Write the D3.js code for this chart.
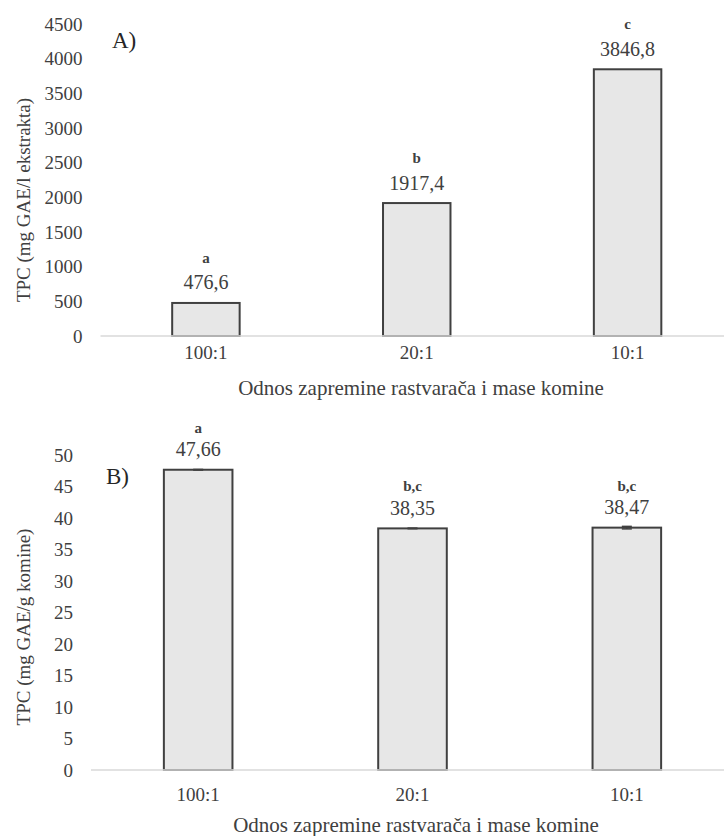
<!DOCTYPE html>
<html>
<head>
<meta charset="utf-8">
<script src="https://cdn.jsdelivr.net/npm/d3@7"></script>
<style>
  body { margin: 0; background: #fff; }
  svg { display: block; }
  text { font-family: "Liberation Serif", "Times New Roman", serif; fill: #404040; }
</style>
</head>
<body>
<svg id="chart" width="724" height="836"></svg>
<script>
// ratio of solvent volume to pomace mass
var ratios = ["100:1", "20:1", "10:1"];

// panel A: TPC per litre of extract
var tpcExtract = [476.6, 1917.4, 3846.8];
var tpcExtractErr = [0, 0, 0];
var lettersA = ["a", "b", "c"];
var ticksA = [0, 500, 1000, 1500, 2000, 2500, 3000, 3500, 4000, 4500];

// panel B: TPC per gram of pomace
var tpcPomace = [47.66, 38.35, 38.47];
var tpcPomaceErr = [0.05, 0.05, 0.2];
var lettersB = ["a", "b,c", "b,c"];
var ticksB = [0, 5, 10, 15, 20, 25, 30, 35, 40, 45, 50];

var xTitle = "Odnos zapremine rastvarača i mase komine";

var svg = d3.select("#chart");

function comma(v, digits) {
    return v.toFixed(digits).replace(".", ",");
}

function drawPanel(cfg) {
    var g = svg.append("g");

    var x = d3.scaleBand()
        .domain(ratios)
        .range([cfg.left, cfg.right])
        .paddingInner(0.68)
        .paddingOuter(0.34);

    var y = d3.scaleLinear()
        .domain([0, cfg.max])
        .range([cfg.bottom, cfg.top]);

    // y axis labels only, no line
    var yAxis = g.append("g")
        .attr("transform", "translate(" + cfg.left + ",0)")
        .call(d3.axisLeft(y).tickValues(cfg.ticks).tickFormat(d3.format("d"))
            .tickSize(0).tickPadding(18));
    yAxis.select(".domain").remove();
    yAxis.selectAll("text")
        .style("font-family", "Liberation Serif")
        .style("font-size", "19px")
        .attr("fill", "#404040");

    // category labels
    var xAxis = g.append("g")
        .attr("transform", "translate(0," + cfg.bottom + ")")
        .call(d3.axisBottom(x).tickSize(0).tickPadding(cfg.xPad));
    xAxis.select(".domain").remove();
    xAxis.selectAll("text")
        .style("font-family", "Liberation Serif")
        .style("font-size", "19px")
        .attr("fill", "#404040");

    // bars
    g.selectAll("rect.bar")
        .data(cfg.values)
        .enter().append("rect")
        .attr("class", "bar")
        .attr("x", function (d, i) { return x(ratios[i]); })
        .attr("y", function (d) { return y(d); })
        .attr("width", x.bandwidth())
        .attr("height", function (d) { return y(0) - y(d); })
        .attr("fill", "#e7e7e7")
        .attr("stroke", "#404040")
        .attr("stroke-width", 2);

    // baseline
    g.append("line")
        .attr("x1", cfg.left).attr("x2", cfg.right)
        .attr("y1", y(0)).attr("y2", y(0))
        .attr("stroke", "#d9d9d9")
        .attr("stroke-width", 1.5);

    // error bars
    cfg.values.forEach(function (v, i) {
        var e = cfg.errors[i];
        if (!e) { return; }
        var cx = x(ratios[i]) + x.bandwidth() / 2;
        var eg = g.append("g").attr("stroke", "#404040").attr("stroke-width", 1.5);
        eg.append("line").attr("x1", cx).attr("x2", cx).attr("y1", y(v - e)).attr("y2", y(v + e));
        eg.append("line").attr("x1", cx - 5).attr("x2", cx + 5).attr("y1", y(v - e)).attr("y2", y(v - e));
        eg.append("line").attr("x1", cx - 5).attr("x2", cx + 5).attr("y1", y(v + e)).attr("y2", y(v + e));
    });

    // value labels
    g.selectAll("text.val")
        .data(cfg.values)
        .enter().append("text")
        .attr("class", "val")
        .attr("x", function (d, i) { return x(ratios[i]) + x.bandwidth() / 2; })
        .attr("y", function (d) { return y(d) - 13.5; })
        .attr("text-anchor", "middle")
        .style("font-size", "20px")
        .text(function (d) { return comma(d, cfg.digits); });

    // significance letters
    g.selectAll("text.sig")
        .data(cfg.letters)
        .enter().append("text")
        .attr("class", "sig")
        .attr("x", function (d, i) { return x(ratios[i]) + x.bandwidth() / 2; })
        .attr("y", function (d, i) { return y(cfg.values[i]) - cfg.letterGap; })
        .attr("text-anchor", "middle")
        .style("font-size", "15px")
        .style("font-weight", "bold")
        .text(function (d) { return d; });

    // panel tag
    g.append("text")
        .attr("x", cfg.tagX).attr("y", cfg.tagY)
        .style("font-size", "23px")
        .style("fill", "#262626")
        .text(cfg.tag);

    // axis titles
    g.append("text")
        .attr("transform", "translate(" + cfg.yTitleX + "," + cfg.yTitleY + ") rotate(-90)")
        .attr("text-anchor", "middle")
        .attr("dy", "0.35em")
        .style("font-size", "19px")
        .text(cfg.yTitle);

    g.append("text")
        .attr("x", cfg.xTitleX).attr("y", cfg.xTitleY)
        .attr("text-anchor", "middle")
        .attr("dy", "0.35em")
        .style("font-size", "21px")
        .text(xTitle);
}

drawPanel({
    values: tpcExtract, errors: tpcExtractErr, letters: lettersA, ticks: ticksA,
    max: 4500, digits: 1,
    left: 100.5, right: 733, top: 24, bottom: 336,
    xPad: 10, letterGap: 40,
    tag: "A)", tagX: 112, tagY: 48,
    yTitle: "TPC (mg GAE/l ekstrakta)", yTitleX: 23, yTitleY: 200,
    xTitleX: 421, xTitleY: 388
});

drawPanel({
    values: tpcPomace, errors: tpcPomaceErr, letters: lettersB, ticks: ticksB,
    max: 50, digits: 2,
    left: 91, right: 734, top: 455, bottom: 770,
    xPad: 18, letterGap: 37,
    tag: "B)", tagX: 106, tagY: 484,
    yTitle: "TPC (mg GAE/g komine)", yTitleX: 23, yTitleY: 627,
    xTitleX: 416, xTitleY: 825
});
</script>
</body>
</html>
